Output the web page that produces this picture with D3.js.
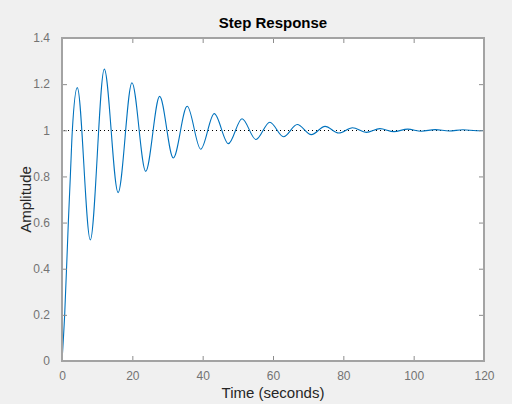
<!DOCTYPE html>
<html>
<head>
<meta charset="utf-8">
<script src="https://cdn.jsdelivr.net/npm/d3@7"></script>
<style>
  html, body { margin: 0; padding: 0; background: #f0f0f0; }
  svg { display: block; font-family: "Liberation Sans", Arial, sans-serif; }
</style>
</head>
<body>
<div id="chart"></div>
<script>
// step response: the initial rise, then each peak and trough
const time = [0, 0.76, 1.8, 2.37, 2.94, 4.35,
  8.05, 12.03, 15.95, 19.9, 23.8, 27.77, 31.65, 35.6, 39.45, 43.3,
  47.3, 51.2, 55.15, 59.1, 63.0, 66.9, 70.9, 74.8, 78.7, 82.6,
  86.55, 90.4, 94.4, 98.3, 102.2, 106.1, 110.1, 114.0, 117.9, 120];
const amplitude = [0, 0.2, 0.6, 0.8, 1.0, 1.185,
  0.525, 1.265, 0.73, 1.206, 0.822, 1.147, 0.88, 1.104, 0.918, 1.072,
  0.942, 1.05, 0.96, 1.035, 0.972, 1.025, 0.981, 1.017, 0.988, 1.011,
  0.991, 1.007, 0.994, 1.005, 0.996, 1.003, 0.997, 1.002, 0.998, 0.999];
const xTicks = [0, 20, 40, 60, 80, 100, 120];
const yTicks = [0, 0.2, 0.4, 0.6, 0.8, 1, 1.2, 1.4];
const steadyState = 1;

const width = 512, height = 404;
const margin = {top: 38, right: 28, bottom: 43, left: 62};
const iw = width - margin.left - margin.right;
const ih = height - margin.top - margin.bottom;

const svg = d3.select("#chart").append("svg")
  .attr("width", width)
  .attr("height", height);

const x = d3.scaleLinear().domain([0, 120]).range([0, iw]);
const y = d3.scaleLinear().domain([0, 1.4]).range([ih, 0]);

const g = svg.append("g")
  .attr("transform", `translate(${margin.left},${margin.top})`);

g.append("rect")
  .attr("width", iw).attr("height", ih)
  .attr("fill", "#fff");

// steady state reference
const yss = Math.round(y(steadyState)) + 0.5;
g.append("line")
  .attr("x1", x(0) + 2).attr("x2", x(120))
  .attr("y1", yss).attr("y2", yss)
  .attr("stroke", "#000")
  .attr("stroke-width", 1)
  .attr("stroke-dasharray", "1,3")
  .attr("shape-rendering", "crispEdges");

const line = d3.line()
  .x((d, i) => x(time[i]))
  .y(d => y(d))
  .curve(d3.curveMonotoneX);

g.append("path")
  .datum(amplitude)
  .attr("fill", "none")
  .attr("stroke", "#0072bd")
  .attr("stroke-width", 1.1)
  .attr("d", line);

const gray = "#a3a3a3";
const labelGray = "#737373";

function styleAxis(sel) {
  sel.select(".domain").remove();
  sel.selectAll(".tick line").attr("stroke", "#8c8c8c");
  sel.selectAll(".tick text")
    .attr("fill", labelGray)
    .attr("font-size", 12)
    .attr("font-family", "Liberation Sans, Arial, sans-serif");
}

g.append("g").attr("transform", `translate(0,${ih})`)
  .call(d3.axisBottom(x).tickValues(xTicks).tickSize(-5).tickPadding(10))
  .call(styleAxis);
g.append("g")
  .call(d3.axisTop(x).tickValues(xTicks).tickSize(-5).tickFormat(""))
  .call(styleAxis);
g.append("g")
  .call(d3.axisLeft(y).tickValues(yTicks).tickSize(-5).tickPadding(12).tickFormat(d3.format("~g")))
  .call(styleAxis);
g.append("g").attr("transform", `translate(${iw},0)`)
  .call(d3.axisRight(y).tickValues(yTicks).tickSize(-5).tickFormat(""))
  .call(styleAxis);

g.append("rect")
  .attr("width", iw).attr("height", ih)
  .attr("fill", "none")
  .attr("stroke", gray)
  .attr("stroke-width", 2)
  .attr("shape-rendering", "crispEdges");

svg.append("text")
  .attr("x", margin.left + iw / 2)
  .attr("y", 28)
  .attr("text-anchor", "middle")
  .attr("font-size", 15)
  .attr("font-weight", "bold")
  .attr("fill", "#000")
  .text("Step Response");

svg.append("text")
  .attr("x", margin.left + iw / 2)
  .attr("y", 398)
  .attr("text-anchor", "middle")
  .attr("font-size", 15)
  .attr("fill", "#262626")
  .text("Time (seconds)");

svg.append("text")
  .attr("transform", `translate(31,${margin.top + ih / 2}) rotate(-90)`)
  .attr("text-anchor", "middle")
  .attr("font-size", 15)
  .attr("fill", "#262626")
  .text("Amplitude");
</script>
</body>
</html>
